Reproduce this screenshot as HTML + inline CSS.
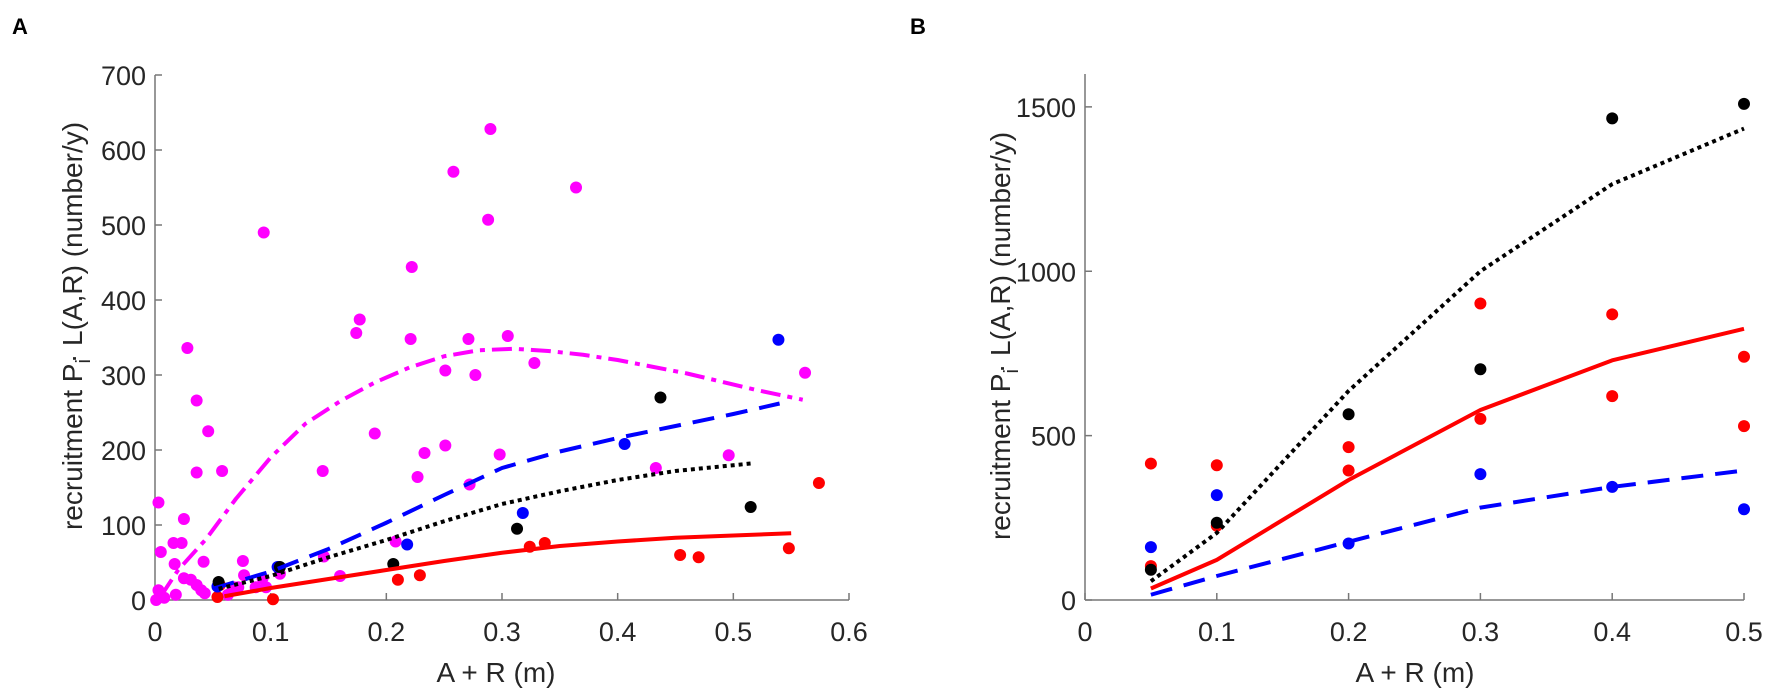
<!DOCTYPE html>
<html><head><meta charset="utf-8"><style>
html,body{margin:0;padding:0;background:#fff;}
svg{display:block;font-family:"Liberation Sans",sans-serif;}
</style></head><body>
<svg id="fig" width="1772" height="695" viewBox="0 0 1772 695">
<text x="12" y="34" font-size="22" font-weight="bold" fill="#000">A</text>
<text x="910" y="34" font-size="22" font-weight="bold" fill="#000">B</text>
<g id="pa"></g>
<g id="pb"></g>
<text x="496" y="682" font-size="28" fill="#262626" text-anchor="middle">A + R (m)</text>
<text x="1415" y="682" font-size="28" fill="#262626" text-anchor="middle">A + R (m)</text>
<text transform="translate(82,326) rotate(-90)" font-size="28" fill="#262626" text-anchor="middle">recruitment P<tspan font-size="20" dy="8">i</tspan><tspan dy="-8" dx="-4">·</tspan> L(A,R) (number/y)</text>
<text transform="translate(1010,336) rotate(-90)" font-size="28" fill="#262626" text-anchor="middle">recruitment P<tspan font-size="20" dy="8">i</tspan><tspan dy="-8" dx="-4">·</tspan> L(A,R) (number/y)</text>
</svg>
<script>
// Panel A data
const aMagX=[0.003,0.025,0.028,0.036,0.046,0.036,0.058,0.094,0.145,0.174,0.177,0.19,0.222,0.221,0.227,0.233,0.251,0.251,0.258,0.271,0.277,0.272,0.288,0.29,0.298,0.305,0.328,0.364,0.005,0.003,0.001,0.008,0.016,0.023,0.017,0.018,0.042,0.025,0.031,0.036,0.04,0.043,0.063,0.068,0.072,0.076,0.077,0.087,0.093,0.096,0.108,0.208,0.146,0.16,0.433,0.496,0.562];
const aMagY=[130,108,336,266,225,170,172,490,172,356,374,222,444,348,164,196,306,206,571,348,300,154,507,628,194,352,316,550,64,13,0,3,76,76,48,7,51,29,27,20,13,9,7,17,17,52,33,17,29,17,35,78,58,32,176,193,303];
const aBluX=[0.054,0.106,0.218,0.318,0.406,0.539];
const aBluY=[18,44,74,116,208,347];
const aBlkX=[0.055,0.108,0.206,0.313,0.437,0.515];
const aBlkY=[24,44,48,95,270,124];
const aRedX=[0.054,0.056,0.102,0.21,0.229,0.324,0.337,0.454,0.47,0.548,0.574];
const aRedY=[4,20,1,27,33,71,76,60,57,69,156];
const aMagLineX=[0.005,0.02,0.044,0.07,0.1,0.13,0.16,0.19,0.22,0.25,0.28,0.31,0.34,0.37,0.4,0.43,0.46,0.49,0.52,0.56];
const aMagLineY=[5,40,81,135,190,235,265,290,310,325,333,335,332,327,320,311,302,291,280,267];
const aBluLineX=[0.05,0.1,0.15,0.2,0.25,0.3,0.35,0.4,0.45,0.5,0.54];
const aBluLineY=[15,38,68,103,140,176,198,216,232,248,262];
const aBlkLineX=[0.055,0.1,0.15,0.2,0.25,0.3,0.35,0.4,0.45,0.515];
const aBlkLineY=[15,32,57,80,105,128,145,160,172,182];
const aRedLineX=[0.06,0.1,0.15,0.2,0.25,0.3,0.35,0.4,0.45,0.5,0.55];
const aRedLineY=[5,16,28,40,52,63,72,78,83,86,89];
const aXTicks=[0,0.1,0.2,0.3,0.4,0.5,0.6];
const aXTickLabels=["0","0.1","0.2","0.3","0.4","0.5","0.6"];
const aYTicks=[0,100,200,300,400,500,600,700];
// Panel B data
const bX=[0.05,0.1,0.2,0.3,0.4,0.5];
const bBlkY=[92,235,565,702,1465,1509];
const bBluY=[161,319,172,383,344,276];
const bRed1Y=[415,410,465,902,869,740];
const bRed2Y=[103,226,394,551,620,529];
const bBlkLine=[57,204,636,1000,1265,1434];
const bRedLine=[35,122,365,578,729,825];
const bBluLine=[16,73,177,281,344,394];
const bXTicks=[0,0.1,0.2,0.3,0.4,0.5];
const bXTickLabels=["0","0.1","0.2","0.3","0.4","0.5"];
const bYTicks=[0,500,1000,1500];

const NS="http://www.w3.org/2000/svg";
function mk(parent,tag,attrs){const e=document.createElementNS(NS,tag);for(const k in attrs)e.setAttribute(k,attrs[k]);parent.appendChild(e);return e;}

function axes(g,x0,x1,xmin,xmax,y0,y1,ymin,ymax,xt,xtl,yt,nm){
  const sx=v=>x0+(v-xmin)/(xmax-xmin)*(x1-x0);
  const sy=v=>y0-(v-ymin)/(ymax-ymin)*(y0-y1);
  let l=mk(g,'line',{x1:x0,y1:y0,x2:x1,y2:y0,stroke:'#777','stroke-width':1.5});
  
  
  l=mk(g,'line',{x1:x0,y1:y0,x2:x0,y2:y1,stroke:'#777','stroke-width':1.5});
  
  
  xt.forEach((v,i)=>{
    const t=mk(g,'line',{x1:sx(v),y1:y0,x2:sx(v),y2:y0-7,stroke:'#777','stroke-width':1.5});
    
    
    const tx=mk(g,'text',{x:sx(v),y:y0+41,'font-size':27,fill:'#262626','text-anchor':'middle'});
    tx.textContent=xtl[i];
    
    
  });
  yt.forEach(v=>{
    const t=mk(g,'line',{x1:x0,y1:sy(v),x2:x0+7,y2:sy(v),stroke:'#777','stroke-width':1.5});
    
    
    const tx=mk(g,'text',{x:x0-9,y:sy(v)+10,'font-size':27,fill:'#262626','text-anchor':'end'});
    tx.textContent=String(v);
    
    
  });
  return {sx,sy};
}
function line(g,s,xs,ys,color,dash,name,cap){
  const p=mk(g,'polyline',{points:xs.map((x,i)=>s.sx(x)+','+s.sy(ys[i])).join(' '),fill:'none',stroke:color,'stroke-width':4,'stroke-dasharray':dash,'stroke-linecap':cap||'butt','stroke-linejoin':'round'});
  
  
}
function dots(g,s,xs,ys,color,name){
  xs.forEach((x,i)=>{
    const c=mk(g,'circle',{cx:s.sx(x),cy:s.sy(ys[i]),r:6,fill:color});
    
    
  });
}
const ga=document.getElementById('pa');
const sa=axes(ga,155,849,0,0.6,600,75,0,700,aXTicks,aXTickLabels,aYTicks,'panel-a');
dots(ga,sa,aMagX,aMagY,'#ff00ff','magenta-point');
dots(ga,sa,aRedX,aRedY,'#ff0000','red-point');
dots(ga,sa,aBluX,aBluY,'#0000ff','blue-point');
dots(ga,sa,aBlkX,aBlkY,'#000000','black-point');
line(ga,sa,aMagLineX,aMagLineY,'#ff00ff','20 7 5 7','magenta-fit-line');
line(ga,sa,aBluLineX,aBluLineY,'#0000ff','22 12','blue-fit-line');
line(ga,sa,aBlkLineX,aBlkLineY,'#000000','4 4','black-fit-line');
line(ga,sa,aRedLineX,aRedLineY,'#ff0000','none','red-fit-line');

const gb=document.getElementById('pb');
const sb=axes(gb,1085,1744,0,0.5,600,74,0,1600,bXTicks,bXTickLabels,bYTicks,'panel-b');
dots(gb,sb,bX,bRed1Y,'#ff0000','red-point');
dots(gb,sb,bX,bRed2Y,'#ff0000','red-point');
dots(gb,sb,bX,bBluY,'#0000ff','blue-point');
dots(gb,sb,bX,bBlkY,'#000000','black-point');
line(gb,sb,bX,bBlkLine,'#000000','4 4','black-fit-line');
line(gb,sb,bX,bRedLine,'#ff0000','none','red-fit-line');
line(gb,sb,bX,bBluLine,'#0000ff','22 12','blue-fit-line');
</script>
</body></html>
